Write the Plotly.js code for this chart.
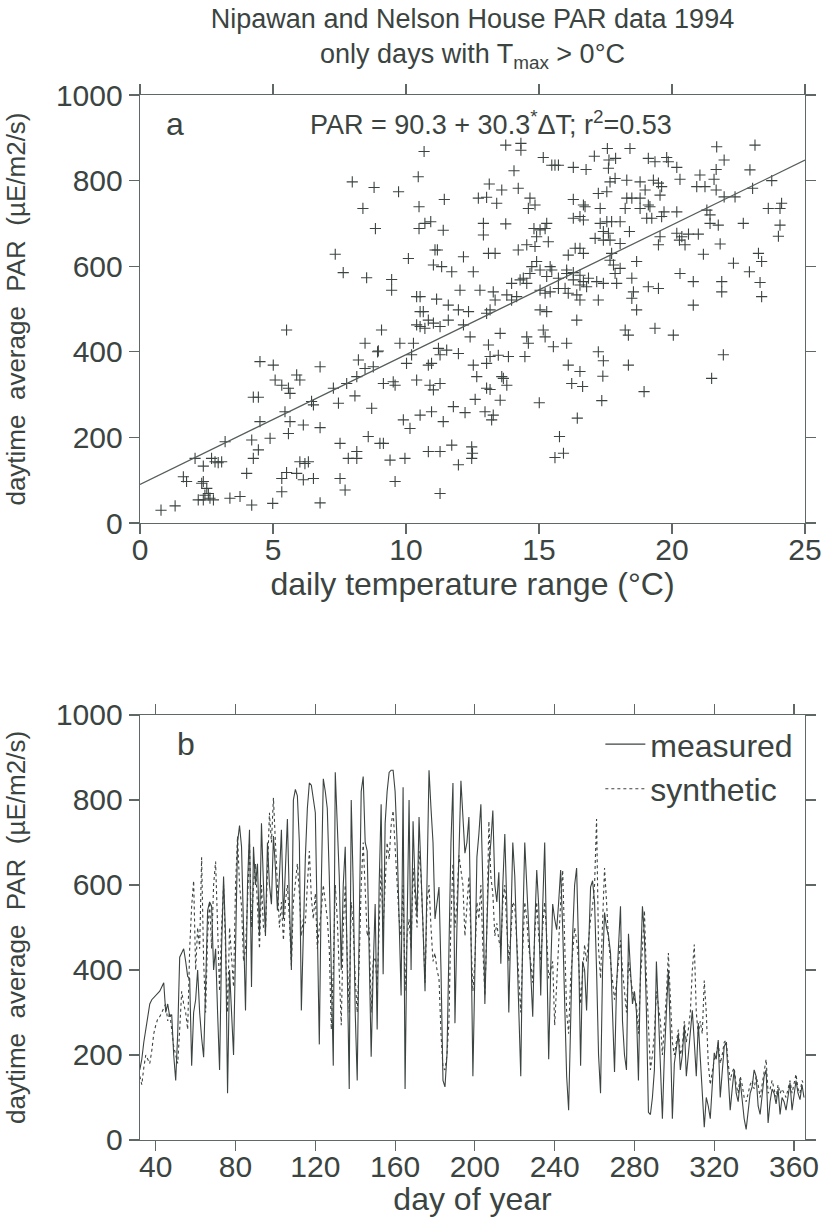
<!DOCTYPE html>
<html>
<head>
<meta charset="utf-8">
<script src="https://cdn.plot.ly/plotly-3.0.1.min.js"></script>
<style>
  html, body { margin: 0; padding: 0; background: #ffffff; }
  #chart { width: 828px; height: 1217px; }
</style>
</head>
<body>
<div id="chart"></div>
<script>
// ---------- Panel a: daily temperature range vs daytime average PAR ----------
const tempRange = [
  10.68,7.98,8.80,9.72,10.46,11.44,8.38,10.49,8.85,10.49,10.71,10.93,11.40,7.34,10.09,11.09,11.18,11.03,11.34,11.72,
  7.64,8.52,9.46,9.46,10.40,10.53,11.15,11.59,10.53,10.65,10.40,10.53,10.71,10.84,11.03,11.28,11.59,5.51,9.08,8.46,
  8.93,9.77,10.28,11.22,11.53,
  13.75,14.32,14.32,15.16,15.48,15.60,15.73,16.29,16.77,17.08,17.57,17.63,17.61,17.88,18.42,19.11,19.36,19.80,19.86,20.18,
  21.68,21.96,21.66,23.12,22.93,21.05,20.93,21.24,21.58,21.66,21.96,22.37,23.03,23.75,20.30,14.06,13.13,13.60,14.22,
  12.72,13.03,13.41,14.66,14.60,14.85,17.86,18.30,18.80,18.99,19.30,19.49,19.61,19.55,
  17.23,17.55,17.67,18.30,18.49,18.80,19.11,19.17,16.29,16.67,16.73,17.30,18.24,18.80,20.18,19.70,19.61,19.05,19.24,
  21.31,21.43,21.43,21.74,23.62,24.12,24.06,22.68,24.06,24.00,16.29,16.54,16.67,12.91,12.91,13.75,
  14.81,15.04,15.29,15.23,15.35,14.91,17.11,17.42,17.67,17.61,17.30,17.55,17.73,18.05,17.42,18.05,18.40,
  19.55,19.49,20.18,20.37,20.62,20.99,20.28,20.49,21.81,21.18,23.25,23.37,22.31,22.91,23.31,23.37,
  20.30,20.80,21.87,21.87,20.80,18.49,18.55,18.49,18.67,19.11,19.49,19.36,20.05,18.24,18.36,21.93,17.23,16.42,
  12.16,12.53,13.10,13.35,14.22,14.54,14.85,14.73,14.91,15.42,14.29,16.10,16.36,16.54,16.67,
  16.04,16.29,16.54,16.29,16.67,16.86,17.17,16.54,16.79,17.73,17.67,17.80,17.86,18.05,17.42,17.92,18.67,
  13.97,14.41,14.66,15.04,15.29,15.48,15.73,16.04,12.03,12.78,13.28,13.35,13.79,13.97,14.16,14.54,
  15.04,15.23,15.42,15.73,15.98,16.10,16.42,16.54,17.23,11.97,12.35,13.03,13.16,15.04,15.29,
  12.16,12.41,13.10,13.54,13.16,13.47,13.85,14.47,14.54,14.60,15.16,15.23,15.54,16.04,
  8.96,11.97,4.51,5.01,5.08,5.33,5.58,5.64,5.89,6.01,6.77,8.21,8.46,8.77,8.15,7.27,7.77,9.15,9.52,9.59,
  10.02,10.21,10.40,10.84,10.96,10.90,11.03,11.28,11.28,4.26,4.45,6.45,6.52,5.45,7.46,8.08,8.71,10.53,10.96,11.78,
  4.51,5.64,6.14,6.77,5.58,4.89,4.20,3.20,9.90,10.15,11.40,8.58,9.02,9.15,7.52,4.45,4.26,
  2.07,2.38,2.69,2.82,2.94,3.07,8.15,7.83,8.15,9.40,9.96,10.84,11.28,11.72,1.63,1.75,2.32,2.38,2.51,2.57,2.44,
  4.01,5.33,5.51,5.89,6.14,6.52,6.01,6.20,6.33,5.33,7.52,7.71,9.59,11.28,
  2.19,2.38,2.63,2.76,3.38,3.76,4.20,4.99,6.77,0.79,1.32,11.97,
  12.53,13.03,12.66,13.03,13.16,13.60,13.66,13.79,12.60,13.54,12.22,12.97,13.28,13.22,15.01,
  16.10,16.54,16.23,16.64,17.42,17.40,17.36,18.36,18.95,16.44,15.77,15.60,15.92,12.47,12.50,12.47,21.49
];
const parScatter = [
  868,797,784,774,809,756,735,739,688,688,700,704,684,628,618,638,638,603,599,587,
  585,573,569,544,529,529,523,509,494,494,463,459,455,474,467,459,474,451,451,420,
  400,420,420,408,404,
  883,887,871,854,836,836,836,831,826,857,875,848,829,852,875,852,844,854,844,831,
  879,848,826,883,825,813,786,786,803,778,762,762,782,800,803,823,792,778,782,
  759,761,747,759,735,743,805,801,797,778,801,794,786,766,
  770,774,797,759,759,759,743,739,756,743,739,735,735,735,727,727,716,712,712,
  731,720,700,696,735,747,735,700,696,670,712,716,708,700,673,699,
  688,685,700,688,657,669,665,661,661,677,700,704,704,704,681,653,681,
  669,650,677,669,675,675,661,650,652,628,630,611,607,587,562,529,
  583,564,564,540,509,572,540,525,498,552,548,455,439,451,439,393,400,474,
  622,587,630,630,638,650,646,599,611,599,568,626,642,642,630,
  583,585,579,568,564,572,564,556,552,630,614,603,583,595,560,560,611,
  560,572,583,591,576,591,572,591,544,544,540,521,533,521,529,560,
  544,537,540,548,548,537,533,521,521,498,494,490,498,498,494,
  463,435,416,443,389,392,389,389,435,420,451,435,412,420,
  402,396,377,369,334,322,315,303,346,334,365,381,361,365,342,315,326,326,330,322,
  373,393,334,369,373,322,311,326,393,294,294,284,276,260,280,297,268,252,260,272,
  237,237,229,223,209,198,194,190,241,221,237,202,186,186,186,171,151,
  151,133,151,143,141,143,167,151,151,147,151,167,167,182,108,97,93,97,81,69,65,
  116,104,118,116,101,104,143,139,143,73,104,77,97,69,
  54,54,58,54,58,62,42,46,47,30,40,136,
  369,373,342,315,312,342,338,322,289,287,258,260,252,241,281,
  369,354,326,319,379,343,286,369,307,245,202,153,163,178,163,151,338
];
// regression shown in panel a: PAR = 90.3 + 30.3*dT
const fitIntercept = 90.3;
const fitSlope = 30.3;
const fitRange = [0, 25];

// ---------- Panel b: daily series, day of year 32..365 ----------
const firstDay = 32;
const parMeasured = [
  165,190,230,260,290,320,330,335,340,345,
  350,360,370,300,320,290,295,200,140,250,
  430,440,450,420,385,380,175,300,330,400,
  300,240,195,360,540,560,550,400,450,300,
  165,450,620,480,110,400,300,200,450,700,
  740,690,500,305,600,730,360,690,600,650,
  480,745,600,480,700,600,555,715,640,540,
  620,730,520,640,755,560,400,800,825,810,
  700,305,500,665,780,840,835,800,770,500,
  225,600,850,820,780,620,350,175,865,750,
  620,400,600,690,400,120,800,600,300,140,
  500,820,855,700,680,450,196,400,555,260,
  600,790,390,745,820,865,870,870,820,700,
  500,340,830,120,500,800,400,750,600,530,
  760,600,500,350,600,870,780,700,520,560,
  595,400,140,125,200,450,700,840,275,500,
  700,845,760,675,700,760,500,150,400,665,
  720,790,600,320,500,650,700,775,600,560,
  630,415,600,720,550,300,500,700,620,450,
  300,150,500,700,600,500,400,290,500,635,
  550,340,550,700,450,190,400,555,520,495,
  560,635,500,300,150,70,300,480,600,640,
  450,175,420,400,305,480,595,610,560,400,
  200,110,400,535,500,480,440,300,160,360,
  450,550,280,200,165,485,400,320,350,300,
  140,400,550,480,300,65,60,100,165,420,
  300,150,50,200,300,400,250,50,180,210,
  250,165,200,270,150,200,250,305,230,150,
  275,200,100,30,100,80,50,130,205,190,
  235,100,170,220,230,150,70,120,165,110,
  90,140,90,50,25,70,110,125,165,150,
  80,60,110,150,165,40,90,120,110,85,
  120,60,100,90,70,100,135,70,100,140,
  110,95,130,100
];
const parSynthetic = [
  150,130,170,200,190,180,210,250,270,285,
  290,300,310,320,280,300,260,220,200,180,
  260,350,320,300,260,450,550,610,400,500,
  450,665,420,300,480,560,450,600,655,500,
  350,500,600,450,300,500,420,360,600,715,
  600,550,420,450,560,700,500,600,650,560,
  450,600,500,490,650,770,700,805,700,600,
  500,560,470,560,600,520,410,560,600,650,
  580,480,520,510,600,680,570,520,580,450,
  500,540,600,560,520,450,260,400,600,520,
  400,270,500,600,430,300,560,500,380,300,
  420,600,700,600,480,500,300,420,430,360,
  500,640,500,600,700,660,740,775,680,600,
  520,480,600,350,480,520,450,640,570,500,
  680,620,500,370,560,600,500,420,440,400,
  380,250,170,165,200,280,520,650,500,560,
  670,640,600,480,560,620,480,350,420,560,
  520,600,450,340,500,750,620,580,480,510,
  470,450,560,600,500,420,480,560,550,460,
  400,300,450,560,520,450,420,370,480,560,
  480,420,500,560,480,380,400,420,270,380,
  460,560,635,450,300,250,380,440,500,470,
  420,320,400,460,420,480,520,550,600,755,
  450,380,500,640,560,470,420,380,330,370,
  420,470,400,350,300,420,380,350,330,320,
  250,380,450,540,380,250,165,200,250,350,
  320,280,200,260,340,440,350,230,200,230,
  260,200,220,280,230,260,300,400,460,300,
  250,280,250,375,300,180,130,160,190,200,
  230,180,200,230,235,180,140,160,170,130,
  110,150,130,100,90,110,130,140,120,150,
  130,100,130,150,190,110,120,140,120,100,
  130,110,120,110,100,120,140,110,130,155,
  120,110,140,130
];
const days = parMeasured.map((_, i) => firstDay + i);

const seriesNames = ['measured', 'synthetic'];
const panelLabels = ['a', 'b'];
const equationText = 'PAR = 90.3 + 30.3<sup>*</sup>\u0394T; r<sup>2</sup>=0.53';

// ---------- styling ----------
const ink = '#3b4441';
const axisInk = '#5f6866';
const font = 'Liberation Sans, Arial, Helvetica, sans-serif';

const traces = [
  {
    type: 'scatter', mode: 'markers', x: tempRange, y: parScatter,
    xaxis: 'x', yaxis: 'y', showlegend: false,
    marker: { symbol: 'cross-thin-open', size: 8, color: ink, line: { width: 1.1, color: ink } },
    hoverinfo: 'skip'
  },
  {
    type: 'scatter', mode: 'lines', x: fitRange,
    y: fitRange.map(v => fitIntercept + fitSlope * v),
    xaxis: 'x', yaxis: 'y', showlegend: false,
    line: { color: '#555d5b', width: 1.3 }, hoverinfo: 'skip'
  },
  {
    type: 'scatter', mode: 'lines', x: days, y: parMeasured, name: seriesNames[0],
    xaxis: 'x2', yaxis: 'y2',
    line: { color: ink, width: 1.1 }, hoverinfo: 'skip'
  },
  {
    type: 'scatter', mode: 'lines', x: days, y: parSynthetic, name: seriesNames[1],
    xaxis: 'x2', yaxis: 'y2',
    line: { color: ink, width: 1.1, dash: '3px,3px' }, hoverinfo: 'skip'
  }
];

const axisCommon = {
  showline: true, linecolor: axisInk, linewidth: 1.3, mirror: 'ticks',
  ticks: 'outside', ticklen: 10, tickwidth: 1.2, tickcolor: axisInk,
  showgrid: false, zeroline: false, automargin: false,
  tickfont: { family: font, size: 30, color: ink }
};

const layout = {
  width: 828, height: 1217,
  paper_bgcolor: '#ffffff', plot_bgcolor: '#ffffff',
  margin: { l: 140, r: 23, t: 95, b: 77 },
  font: { family: font, color: ink },
  title: {
    text: 'Nipawan and Nelson House PAR data 1994<br>only days with T<sub>max</sub> > 0\u00b0C',
    font: { family: 'Liberation Sans Narrow, Liberation Sans, Arial, sans-serif', size: 27, color: ink },
    x: 0.5, xref: 'paper', xanchor: 'center',
    y: 0.977, yref: 'container', yanchor: 'top'
  },
  xaxis: Object.assign({}, axisCommon, {
    domain: [0, 1], anchor: 'y', range: [0, 25], tick0: 0, dtick: 5, ticklabelstandoff: -10,
    title: { text: 'daily temperature range (\u00b0C)', font: { family: font, size: 32, color: ink }, standoff: 0 }
  }),
  yaxis: Object.assign({}, axisCommon, {
    domain: [0.5904, 1], anchor: 'x', range: [0, 1000], tick0: 0, dtick: 200,
    title: { text: 'daytime  average  PAR  (\u00b5E/m2/s)', font: { family: font, size: 26, color: ink }, standoff: 22 }
  }),
  xaxis2: Object.assign({}, axisCommon, {
    domain: [0, 1], anchor: 'y2', range: [32.1, 365.5], tick0: 40, dtick: 40, ticklabelstandoff: -10,
    title: { text: 'day of year', font: { family: font, size: 32, color: ink }, standoff: 6 }
  }),
  yaxis2: Object.assign({}, axisCommon, {
    domain: [0, 0.4067], anchor: 'x2', range: [0, 1000], tick0: 0, dtick: 200,
    title: { text: 'daytime  average  PAR  (\u00b5E/m2/s)', font: { family: font, size: 26, color: ink }, standoff: 22 }
  }),
  showlegend: true,
  legend: {
    x: 0.99, xanchor: 'right', y: 0.405, yanchor: 'top',
    bgcolor: 'rgba(0,0,0,0)', borderwidth: 0,
    font: { family: font, size: 32, color: ink },
    tracegroupgap: 0, itemwidth: 40
  },
  annotations: [
    { xref: 'x', yref: 'y', x: 1.32, y: 932, text: panelLabels[0], showarrow: false,
      font: { family: font, size: 32, color: ink }, xanchor: 'center', yanchor: 'middle' },
    { xref: 'x', yref: 'y', x: 13.2, y: 935, text: equationText, showarrow: false,
      font: { family: font, size: 27, color: ink }, xanchor: 'center', yanchor: 'middle' },
    { xref: 'x2', yref: 'y2', x: 55.2, y: 932, text: panelLabels[1], showarrow: false,
      font: { family: font, size: 32, color: ink }, xanchor: 'center', yanchor: 'middle' }
  ]
};

Plotly.newPlot('chart', traces, layout, { staticPlot: true, displayModeBar: false });
</script>
</body>
</html>
